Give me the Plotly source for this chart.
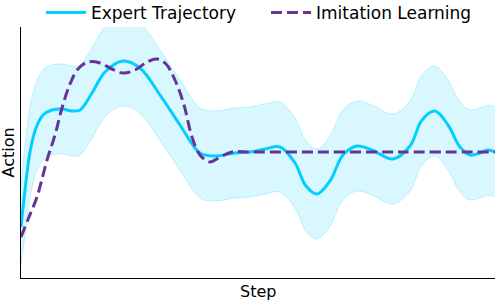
import plotly.graph_objects as go

# Step positions (arbitrary units)
steps = [0, 4, 9, 15, 22, 31, 41, 51, 59, 71, 84, 102, 119, 139, 159, 179, 194, 214,
         229, 244, 259, 274, 285, 296, 309, 322, 336, 351, 372, 389, 401, 414, 427,
         439, 449, 459, 467, 474]
expert = [51, 88, 126, 150, 163, 168, 169, 167, 168, 185, 206, 217, 210, 183, 153, 125,
          122, 125, 126, 129, 131, 115, 92, 84, 97, 123, 132, 128, 119, 132, 158, 167,
          153, 131, 123, 125, 128, 126]
expert_upper = [91, 133, 171, 195, 208, 213, 214, 212, 213, 230, 251, 262, 255, 228, 198,
                170, 167, 170, 171, 174, 176, 160, 137, 129, 142, 168, 177, 173, 164, 177,
                203, 212, 198, 176, 168, 170, 173, 171]
expert_lower = [13, 43, 81, 105, 118, 123, 124, 122, 123, 140, 161, 172, 165, 138, 108, 80,
                77, 80, 81, 84, 86, 70, 47, 39, 52, 78, 87, 83, 74, 87, 113, 122, 108, 86,
                78, 80, 83, 81]

il_steps = [0, 8, 16, 26, 34, 41, 49, 57, 67, 79, 91, 102, 114, 126, 136, 145, 154, 163,
            171, 179, 189, 199, 211, 229, 279, 379, 474]
imitation = [41, 61, 81, 118, 143, 170, 194, 209, 216, 215, 209, 205, 208, 216, 219, 214,
             198, 173, 141, 123, 116, 121, 126, 126, 126, 126, 126]

x_title = "Step"
y_title = "Action"

CYAN = "#00CFFF"
PURPLE = "#663399"
FONT = "DejaVu Sans"

fig = go.Figure()
fig.add_trace(go.Scatter(x=steps, y=expert_upper, mode="lines", line=dict(color="rgba(0,200,255,0.22)", width=1, shape="spline"),
                         showlegend=False, hoverinfo="skip"))
fig.add_trace(go.Scatter(x=steps, y=expert_lower, mode="lines", line=dict(color="rgba(0,200,255,0.22)", width=1, shape="spline"),
                         fill="tonexty", fillcolor="rgba(0,200,255,0.15)", showlegend=False, hoverinfo="skip"))
fig.add_trace(go.Scatter(x=steps, y=expert, mode="lines", name="Expert Trajectory",
                         line=dict(color=CYAN, width=3, shape="spline")))
fig.add_trace(go.Scatter(x=il_steps, y=imitation, mode="lines", name="Imitation Learning",
                         line=dict(color=PURPLE, width=3, shape="spline", dash="11px,5px")))

fig.update_layout(
    width=500, height=300,
    margin=dict(l=21, r=5, t=27, b=22, autoexpand=False),
    paper_bgcolor="white", plot_bgcolor="white",
    font=dict(family=FONT, size=16, color="black"),
    legend=dict(orientation="h", x=41 / 500, xanchor="left", xref="container",
                y=(300 - 13) / 300, yanchor="middle", yref="container",
                traceorder="normal", font=dict(size=17), bgcolor="rgba(0,0,0,0)",
                itemwidth=40, entrywidth=170, entrywidthmode="pixels"),
    xaxis=dict(range=[0, 474], showline=True, linecolor="black", linewidth=1.2,
               showticklabels=False, ticks="", showgrid=False, zeroline=False, automargin=False),
    yaxis=dict(range=[0, 251], showline=True, linecolor="black", linewidth=1.2,
               showticklabels=False, ticks="", showgrid=False, zeroline=False, automargin=False),
    annotations=[
        dict(text=x_title, xref="paper", yref="paper", x=0.5, y=-13 / 251, xanchor="center",
             yanchor="middle", showarrow=False, font=dict(size=16)),
        dict(text=y_title, xref="paper", yref="paper", x=-13 / 474, y=0.5, xanchor="center",
             yanchor="middle", textangle=-90, showarrow=False, font=dict(size=16)),
    ],
)

fig.write_html("out.html", config={"displayModeBar": False},
               post_script="document.body.style.margin='0';document.body.style.overflow='hidden';")
